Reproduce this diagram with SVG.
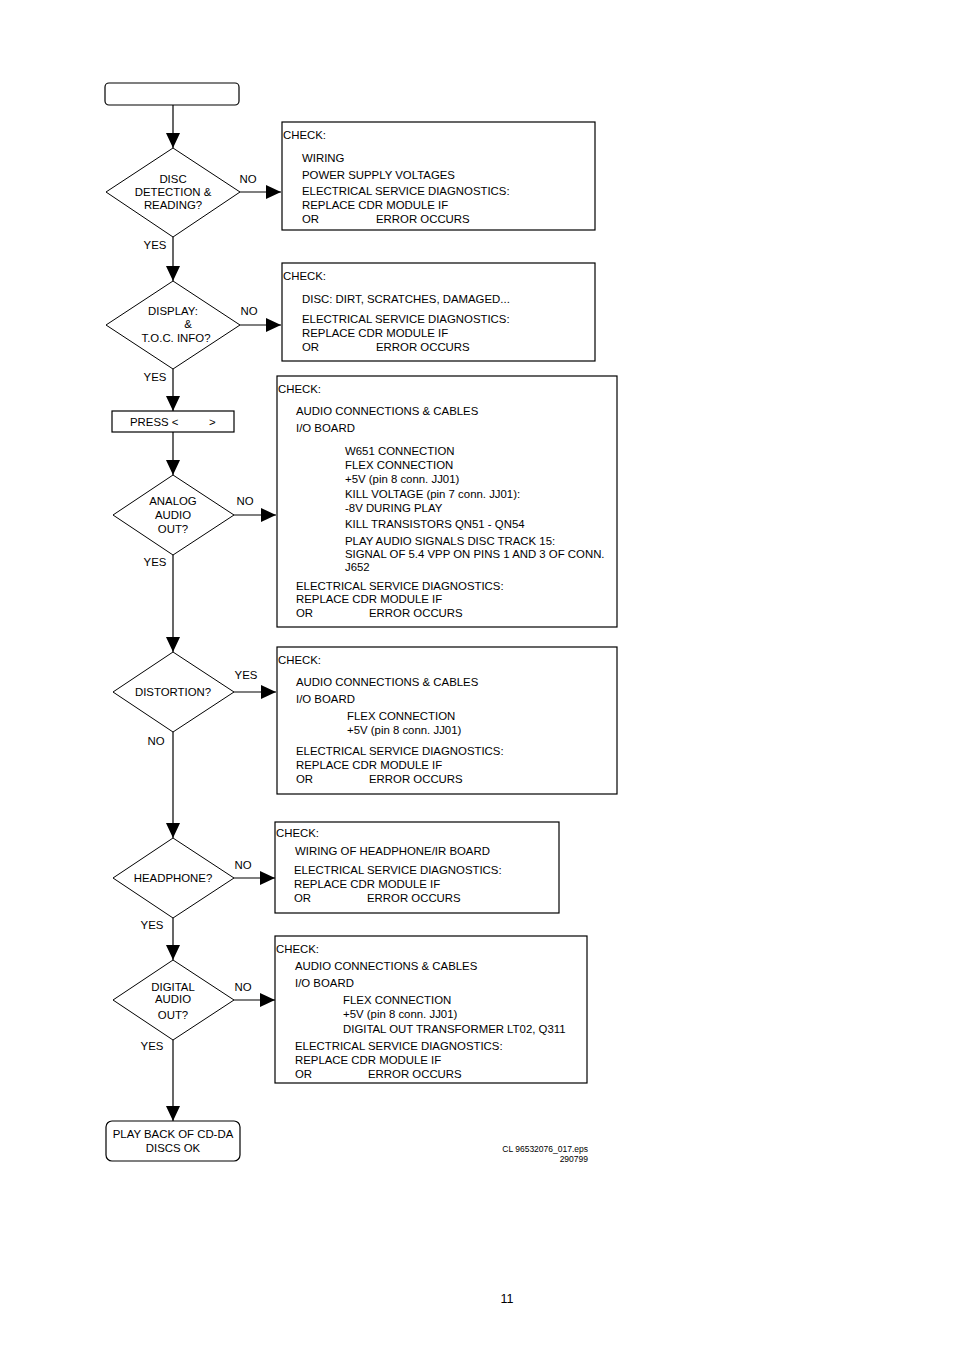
<svg xmlns="http://www.w3.org/2000/svg" width="954" height="1351" viewBox="0 0 954 1351">
<style>
text{font-family:"Liberation Sans",Arial,Helvetica,sans-serif;font-size:11.4px;fill:#000}
.c{text-anchor:middle}
.box{fill:#fff;stroke:#000;stroke-width:1.2}
.dia{fill:#fff;stroke:#000;stroke-width:1}
.ln{stroke:#000;stroke-width:1.2;fill:none;marker-end:url(#ah)}
.sm{font-size:8.5px;text-anchor:end}
</style>
<defs>
<marker id="ah" markerUnits="userSpaceOnUse" markerWidth="16" markerHeight="14" refX="15" refY="7" orient="auto">
<path d="M0,0 L15,7 L0,14 Z" fill="#000"/>
</marker>
</defs>
<rect width="954" height="1351" fill="#fff"/>
<g id="connectors">
<line class="ln" x1="173" y1="105" x2="173" y2="148"/>
<line class="ln" x1="240" y1="192" x2="281" y2="192"/>
<line class="ln" x1="173" y1="237" x2="173" y2="281"/>
<line class="ln" x1="240" y1="325" x2="281" y2="325"/>
<line class="ln" x1="173" y1="369" x2="173" y2="411"/>
<line class="ln" x1="173" y1="432" x2="173" y2="475"/>
<line class="ln" x1="234" y1="515" x2="276" y2="515"/>
<line class="ln" x1="173" y1="555" x2="173" y2="652"/>
<line class="ln" x1="234" y1="692" x2="276" y2="692"/>
<line class="ln" x1="173" y1="732" x2="173" y2="838"/>
<line class="ln" x1="234" y1="878" x2="275" y2="878"/>
<line class="ln" x1="173" y1="918" x2="173" y2="960"/>
<line class="ln" x1="234" y1="1000" x2="275" y2="1000"/>
<line class="ln" x1="173" y1="1040" x2="173" y2="1121"/>
<text x="248" y="183" class="c">NO</text>
<text x="155" y="249" class="c">YES</text>
<text x="249" y="315" class="c">NO</text>
<text x="155" y="381" class="c">YES</text>
<text x="245" y="505" class="c">NO</text>
<text x="155" y="566" class="c">YES</text>
<text x="246" y="679" class="c">YES</text>
<text x="156" y="745" class="c">NO</text>
<text x="243" y="869" class="c">NO</text>
<text x="152" y="929" class="c">YES</text>
<text x="243" y="991" class="c">NO</text>
<text x="152" y="1050" class="c">YES</text>
</g>
<g id="start">
<rect class="box" x="105" y="83" width="134" height="22" rx="4"/>
</g>
<g id="d_disc">
<polygon class="dia" points="173,148 240,192 173,237 106,192"/>
<text x="173" y="183" class="c">DISC</text>
<text x="173" y="196" class="c">DETECTION &amp;</text>
<text x="173" y="209" class="c">READING?</text>
</g>
<g id="check1">
<rect class="box" x="282" y="122" width="313" height="108"/>
<text x="283" y="139">CHECK:</text>
<text x="302" y="162">WIRING</text>
<text x="302" y="179">POWER SUPPLY VOLTAGES</text>
<text x="302" y="195">ELECTRICAL SERVICE DIAGNOSTICS:</text>
<text x="302" y="209">REPLACE CDR MODULE IF</text>
<text x="302" y="223">OR</text>
<text x="376" y="223">ERROR OCCURS</text>
</g>
<g id="d_display">
<polygon class="dia" points="173,281 240,325 173,369 106,325"/>
<text x="173" y="315" class="c">DISPLAY:</text>
<text x="188" y="328" class="c">&amp;</text>
<text x="176" y="342" class="c">T.O.C. INFO?</text>
</g>
<g id="check2">
<rect class="box" x="282" y="263" width="313" height="98"/>
<text x="283" y="280">CHECK:</text>
<text x="302" y="303">DISC: DIRT, SCRATCHES, DAMAGED...</text>
<text x="302" y="323">ELECTRICAL SERVICE DIAGNOSTICS:</text>
<text x="302" y="337">REPLACE CDR MODULE IF</text>
<text x="302" y="351">OR</text>
<text x="376" y="351">ERROR OCCURS</text>
</g>
<g id="press">
<rect class="box" x="112" y="411" width="122" height="21"/>
<text x="130" y="426">PRESS &lt;</text>
<text x="209" y="426">&gt;</text>
</g>
<g id="d_analog">
<polygon class="dia" points="173,475 234,515 173,555 113,515"/>
<text x="173" y="505" class="c">ANALOG</text>
<text x="173" y="519" class="c">AUDIO</text>
<text x="173" y="533" class="c">OUT?</text>
</g>
<g id="check3">
<rect class="box" x="277" y="376" width="340" height="251"/>
<text x="278" y="393">CHECK:</text>
<text x="296" y="415">AUDIO CONNECTIONS &amp; CABLES</text>
<text x="296" y="432">I/O BOARD</text>
<text x="345" y="455">W651 CONNECTION</text>
<text x="345" y="469">FLEX CONNECTION</text>
<text x="345" y="483">+5V (pin 8 conn. JJ01)</text>
<text x="345" y="498">KILL VOLTAGE (pin 7 conn. JJ01):</text>
<text x="345" y="512">-8V DURING PLAY</text>
<text x="345" y="528">KILL TRANSISTORS QN51 - QN54</text>
<text x="345" y="545">PLAY AUDIO SIGNALS DISC TRACK 15:</text>
<text x="345" y="558">SIGNAL OF 5.4 VPP ON PINS 1 AND 3 OF CONN.</text>
<text x="345" y="571">J652</text>
<text x="296" y="590">ELECTRICAL SERVICE DIAGNOSTICS:</text>
<text x="296" y="603">REPLACE CDR MODULE IF</text>
<text x="296" y="617">OR</text>
<text x="369" y="617">ERROR OCCURS</text>
</g>
<g id="d_distortion">
<polygon class="dia" points="173,652 234,692 173,732 113,692"/>
<text x="173" y="696" class="c">DISTORTION?</text>
</g>
<g id="check4">
<rect class="box" x="277" y="647" width="340" height="147"/>
<text x="278" y="664">CHECK:</text>
<text x="296" y="686">AUDIO CONNECTIONS &amp; CABLES</text>
<text x="296" y="703">I/O BOARD</text>
<text x="347" y="720">FLEX CONNECTION</text>
<text x="347" y="734">+5V (pin 8 conn. JJ01)</text>
<text x="296" y="755">ELECTRICAL SERVICE DIAGNOSTICS:</text>
<text x="296" y="769">REPLACE CDR MODULE IF</text>
<text x="296" y="783">OR</text>
<text x="369" y="783">ERROR OCCURS</text>
</g>
<g id="d_headphone">
<polygon class="dia" points="173,838 234,878 173,918 113,878"/>
<text x="173" y="882" class="c">HEADPHONE?</text>
</g>
<g id="check5">
<rect class="box" x="275" y="822" width="284" height="91"/>
<text x="276" y="837">CHECK:</text>
<text x="295" y="855">WIRING OF HEADPHONE/IR BOARD</text>
<text x="294" y="874">ELECTRICAL SERVICE DIAGNOSTICS:</text>
<text x="294" y="888">REPLACE CDR MODULE IF</text>
<text x="294" y="902">OR</text>
<text x="367" y="902">ERROR OCCURS</text>
</g>
<g id="d_digital">
<polygon class="dia" points="173,960 234,1000 173,1040 113,1000"/>
<text x="173" y="991" class="c">DIGITAL</text>
<text x="173" y="1003" class="c">AUDIO</text>
<text x="173" y="1019" class="c">OUT?</text>
</g>
<g id="check6">
<rect class="box" x="275" y="936" width="312" height="147"/>
<text x="276" y="953">CHECK:</text>
<text x="295" y="970">AUDIO CONNECTIONS &amp; CABLES</text>
<text x="295" y="987">I/O BOARD</text>
<text x="343" y="1004">FLEX CONNECTION</text>
<text x="343" y="1018">+5V (pin 8 conn. JJ01)</text>
<text x="343" y="1033">DIGITAL OUT TRANSFORMER LT02, Q311</text>
<text x="295" y="1050">ELECTRICAL SERVICE DIAGNOSTICS:</text>
<text x="295" y="1064">REPLACE CDR MODULE IF</text>
<text x="295" y="1078">OR</text>
<text x="368" y="1078">ERROR OCCURS</text>
</g>
<g id="end">
<rect class="box" x="106" y="1121" width="134" height="40" rx="6"/>
<text x="173" y="1138" class="c">PLAY BACK OF CD-DA</text>
<text x="173" y="1152" class="c">DISCS OK</text>
</g>
<g id="footer">
<text x="588" y="1152" class="sm">CL 96532076_017.eps</text>
<text x="588" y="1162" class="sm">290799</text>
<text x="507" y="1303" class="c" style="font-size:12.5px">11</text>
</g>
</svg>
